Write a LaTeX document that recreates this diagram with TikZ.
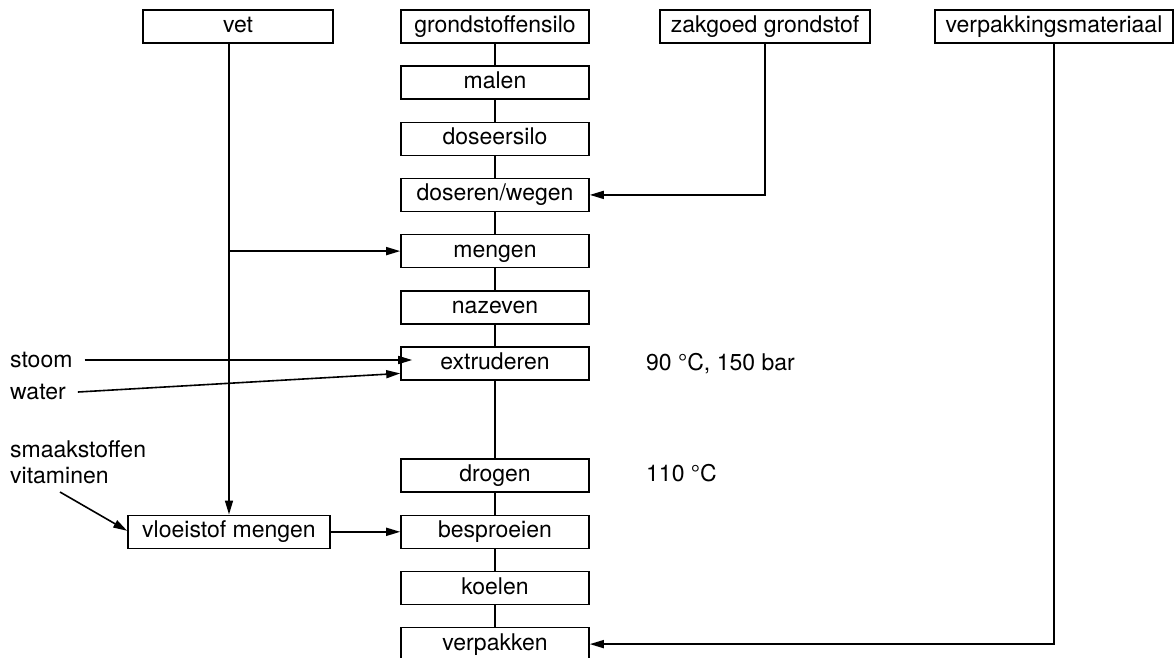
\documentclass[tikz,border=0pt]{standalone}
\usepackage{fontspec}
\setmainfont{TeX Gyre Heros}
\usetikzlibrary{arrows.meta}
\begin{document}
\begin{tikzpicture}[x=1pt,y=-1pt,
  box/.style={draw, line width=1.6pt, minimum height=33pt, inner sep=0pt, text height=16pt, text depth=4pt, font=\fontsize{23}{27}\selectfont},
  mid/.style={box, minimum width=188pt},
  lbl/.style={inner sep=0pt, font=\fontsize{23}{26}\selectfont},
  ln/.style={line width=1.6pt},
  arr/.style={line width=1.6pt, -{Triangle[length=14pt,width=8pt]}}]
\clip (0,0) rectangle (1175,657);
\fill[white] (0,0) rectangle (1175,657);
% top side boxes
\node[box, minimum width=190pt] (vet) at (238,26.5) {vet};
\node[box, minimum width=210pt] (zak) at (765,26.5) {zakgoed grondstof};
\node[box, minimum width=238pt] (vpm) at (1054,26.5) {verpakkingsmateriaal};
% centre column
\node[mid] (g)  at (495,26.5)  {grondstoffensilo};
\node[mid] (ma) at (495,82.6)  {malen};
\node[mid] (ds) at (495,138.8) {doseersilo};
\node[mid] (dw) at (495,194.9) {doseren/wegen};
\node[mid] (me) at (495,251.1) {mengen};
\node[mid] (nz) at (495,307.2) {nazeven};
\node[mid] (ex) at (495,363.4) {extruderen};
\node[mid] (dr) at (495,475.7) {drogen};
\node[mid] (bs) at (495,531.8) {besproeien};
\node[mid] (ko) at (495,588.0) {koelen};
\node[mid] (vp) at (495,644.1) {verpakken};
% left side
\node[box, minimum width=202pt] (vm) at (229,531.8) {vloeistof mengen};
\node[lbl, anchor=west] (st) at (10,360) {stoom};
\node[lbl, anchor=west] (wa) at (10,392) {water};
\node[lbl, anchor=north west, align=left] (sv) at (10,440.5) {smaakstoffen\\vitaminen};
\coordinate (svs) at (60,492);
% conditions
\node[lbl, anchor=west] (c1) at (646,363.4) {90 °C, 150 bar};
\node[lbl, anchor=west] (c2) at (646,473) {110 °C};
% centre chain
\draw[ln] (g) -- (ma);
\draw[ln] (ma) -- (ds);
\draw[ln] (ds) -- (dw);
\draw[ln] (dw) -- (me);
\draw[ln] (me) -- (nz);
\draw[ln] (nz) -- (ex);
\draw[ln] (ex) -- (dr);
\draw[ln] (dr) -- (bs);
\draw[ln] (bs) -- (ko);
\draw[ln] (ko) -- (vp);
% side connectors
\draw[arr] (vet.south -| vm.north) -- (vm.north);
\coordinate (br) at (vm.north |- me.west);
\draw[arr] (br) -- (me.west);
\draw[arr] (zak.south) |- (dw.east);
\draw[arr] (vpm.south) |- (vp.east);
\draw[arr] ([xshift=12pt]st.east) -- ([xshift=12pt]st.east -| ex.west);
\draw[arr] ([xshift=12pt]wa.east) -- ([yshift=-10pt]ex.west);
\draw[arr] (svs) -- ([yshift=1pt]vm.west);
\draw[arr] (vm.east) -- (bs.west);
\end{tikzpicture}
\end{document}
